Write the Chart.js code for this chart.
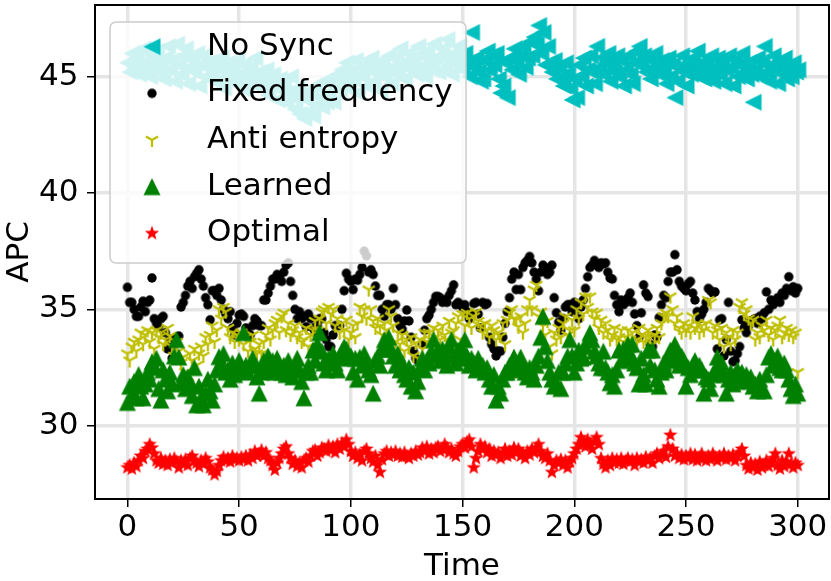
<!DOCTYPE html>
<html>
<head>
<meta charset="utf-8">
<script src="https://cdn.jsdelivr.net/npm/chart.js@4.4.1/dist/chart.umd.min.js"></script>
<style>
  html, body { margin: 0; padding: 0; background: #ffffff; }
  #wrap { width: 831px; height: 581px; }
</style>
</head>
<body>
<div id="wrap"><canvas id="c" width="831" height="581"></canvas></div>
<script>
// ---------- data ----------
const seriesLabels = ['No Sync', 'Fixed frequency', 'Anti entropy', 'Learned', 'Optimal'];
const xTicks = [0, 50, 100, 150, 200, 250, 300];
const yTicks = [30, 35, 40, 45];
const times = Array.from({length: 301}, (_, i) => i);

const noSync = [
  45.6, 45.2, 46.0, 45.4, 45.8, 45.1, 45.5, 46.2, 45.3, 45.7,
  45.0, 45.9, 45.4, 46.1, 45.2, 45.6, 44.9, 45.8, 46.3, 45.3,
  45.7, 44.8, 46.4, 45.5, 45.1, 45.9, 46.2, 44.7, 45.4, 45.8,
  45.2, 46.0, 44.6, 45.5, 45.9, 45.0, 45.6, 44.9, 45.3, 45.7,
  44.8, 45.4, 45.8, 44.5, 45.2, 45.6, 44.9, 45.3, 45.0, 45.7,
  44.6, 45.1, 45.5, 44.4, 45.0, 45.4, 44.7, 45.8, 44.9, 45.2,
  44.5, 45.0, 45.3, 44.2, 44.8, 45.1, 44.6, 44.0, 44.9, 44.4,
  44.7, 43.9, 44.3, 45.0, 44.1, 43.6, 44.5, 43.4, 44.2, 43.2,
  44.0, 43.5, 44.4, 43.3, 44.6, 43.8, 44.1, 43.7, 44.8, 43.9,
  44.3, 44.9, 43.9, 44.6, 45.1, 44.4, 45.3, 44.8, 45.6, 44.5,
  45.2, 44.9, 45.7, 44.3, 45.4, 45.0, 45.6, 44.6, 45.3, 45.8,
  44.8, 45.2, 45.6, 44.4, 45.5, 45.0, 45.3, 45.9, 44.7, 45.4,
  45.8, 45.1, 46.2, 45.5, 44.9, 45.7, 46.0, 45.3, 45.8, 45.1,
  46.3, 45.4, 45.9, 45.0, 46.1, 45.6, 45.3, 46.4, 45.8, 45.2,
  45.9, 46.2, 45.4, 46.6, 45.7, 45.1, 46.0, 45.5, 46.3, 45.8,
  45.3, 46.0, 45.6, 45.0, 46.9, 45.4, 45.8, 45.2, 44.8, 44.9,
  45.7, 46.1, 45.3, 45.9, 45.5, 46.0, 44.9, 44.3, 44.6, 45.6,
  44.1, 45.8, 45.3, 46.2, 45.7, 45.1, 45.9, 46.3, 45.4, 45.8,
  46.5, 45.9, 46.7, 46.4, 47.2, 46.0, 46.9, 45.5, 46.3, 45.6,
  45.2, 45.7, 44.9, 45.4, 45.0, 44.6, 45.6, 45.1, 44.5, 44.0,
  44.9, 44.1, 45.5, 45.0, 45.8, 44.6, 45.3, 45.9, 45.2, 44.7,
  46.3, 45.4, 45.8, 45.1, 45.6, 46.0, 44.8, 45.5, 45.2, 45.9,
  45.0, 45.7, 44.6, 45.3, 45.9, 45.1, 44.7, 45.6, 46.1, 46.3,
  45.5, 45.9, 45.2, 45.8, 44.9, 45.4, 46.0, 45.6, 45.1, 45.7,
  45.3, 44.7, 45.8, 45.0, 45.5, 44.1, 44.8, 45.4, 45.9, 45.2,
  44.6, 45.6, 45.1, 45.8, 45.3, 46.1, 45.0, 45.5, 44.9, 45.7,
  45.2, 45.9, 44.8, 45.4, 45.8, 45.1, 45.6, 44.7, 45.3, 45.9,
  45.4, 44.6, 45.7, 45.0, 45.5, 46.0, 45.2, 44.9, 45.6, 45.1,
  43.9, 45.3, 45.8, 45.0, 45.6, 46.3, 45.2, 44.8, 45.5, 45.9,
  45.3, 44.7, 45.6, 45.1, 45.8, 44.9, 45.4, 45.0, 45.6, 45.2,
  45.3
];

const fixedFrequency = [
  35.95, 35.3, 35.3, 35.0, 34.7, 34.7, 35.1, 35.35, 34.9, 35.3,
  35.4, 36.35, 34.6, 34.4, 34.25, 34.6, 34.7, 34.0, 33.3, 33.7,
  32.9, 33.5, 33.8, 33.85, 35.1, 35.3, 35.6, 36.0, 36.2, 35.9,
  36.4, 36.55, 36.7, 36.3, 36.0, 35.5, 35.2, 34.55, 35.8, 35.8,
  35.6, 35.9, 35.4, 35.0, 34.8, 34.6, 34.9, 34.2, 33.9, 34.4,
  34.75, 34.8, 34.7, 34.2, 34.0, 33.9, 34.3, 34.6, 34.5, 34.3,
  34.3, 35.4, 35.4, 35.7, 36.0, 36.3, 36.3, 36.5, 36.4, 36.2,
  36.6, 36.9, 37.0, 36.2, 35.6, 35.0, 34.6, 34.9, 34.6, 34.7,
  34.25, 34.8, 34.6, 34.2, 34.0, 34.3, 34.6, 34.6, 34.0, 33.7,
  33.4, 33.4, 33.9, 34.3, 34.3, 34.3, 35.0, 35.8, 36.55, 36.3,
  36.2, 35.85, 36.3, 36.25, 36.5, 36.8, 37.5, 37.3, 36.6, 36.7,
  36.5, 36.0, 35.6, 35.6, 35.0, 34.7, 35.2, 35.2, 35.0, 35.9,
  35.2, 34.6, 34.3, 34.15, 34.5, 34.97, 34.5, 33.8, 33.2, 32.9,
  32.8, 32.7, 33.5, 34.1, 34.6, 34.75, 35.0, 35.3, 35.55, 35.55,
  35.5, 35.3, 35.4, 35.3, 35.6, 35.8, 36.05, 35.2, 35.3, 35.2,
  35.1, 35.2, 34.9, 34.6, 34.75, 35.25, 35.3, 34.8, 34.2, 35.3,
  35.2, 35.25, 33.8, 33.5, 33.3, 33.0, 33.2, 33.2, 33.8, 34.4,
  34.9, 35.5, 36.3, 36.6, 35.85, 36.5, 35.85, 36.8, 37.0, 37.1,
  37.27, 37.0, 36.6, 36.3, 35.8, 36.6, 36.9, 36.8, 36.5, 36.6,
  36.9, 35.5, 34.85, 34.45, 34.1, 34.6, 35.1, 35.2, 35.2, 34.9,
  35.3, 35.0, 34.6, 35.1, 35.4, 35.9, 36.4, 36.8, 36.9, 37.1,
  36.9, 36.8, 37.0, 36.95, 37.0, 36.6, 36.35, 36.3, 35.6, 35.2,
  34.9, 35.4, 35.2, 35.3, 35.5, 35.7, 35.3, 34.8, 34.3, 33.8,
  34.85, 36.05, 35.7, 35.55, 33.5, 33.4, 33.9, 33.8, 34.65, 35.2,
  35.6, 35.5, 36.2, 36.6, 36.6, 37.35, 36.7, 36.2, 36.0, 35.9,
  35.8, 36.1, 36.2, 35.7, 35.4, 34.9, 34.6, 34.8, 35.0, 35.3,
  35.9, 35.8, 35.7, 35.75, 33.3, 34.55, 34.6, 33.0, 33.7, 35.3,
  33.2, 32.75, 32.8, 33.1, 33.4, 34.55, 34.2, 34.0, 34.3, 34.5,
  34.55, 34.6, 34.4, 34.7, 34.6, 34.85, 35.75, 35.0, 35.4, 35.2,
  35.35, 35.5, 35.3, 35.7, 35.6, 35.9, 36.4, 35.8, 35.97, 35.7,
  35.9
];

const antiEntropy = [
  33.1, 32.8, 33.4, 33.6, 33.2, 33.7, 34.0, 33.5, 33.9, 34.1,
  33.6, 34.0, 33.3, 34.1, 33.8, 34.0, 33.5, 33.7, 34.2, 33.85,
  33.4, 33.0, 33.6, 33.2, 32.7, 32.95, 32.3, 31.85, 33.1, 32.8,
  33.3, 32.6, 33.1, 33.4, 33.0, 33.8, 33.5, 33.9, 34.3, 33.6,
  34.1, 35.0, 34.6, 35.1, 34.9, 34.2, 33.8, 34.0, 33.6, 33.9,
  33.7, 34.0, 33.5, 33.8, 33.2, 33.6, 33.9, 33.3, 33.1, 33.5,
  33.1, 33.6, 33.9, 34.2, 33.7, 34.1, 34.4, 34.55, 34.0, 34.7,
  34.85, 34.1, 34.4, 33.9, 34.1, 34.3, 33.8, 34.0, 33.6, 33.7,
  34.2, 33.4, 33.9, 34.1, 34.5, 34.1, 34.6, 34.9, 35.0, 34.4,
  35.1, 34.8, 35.0, 34.3, 34.6, 34.0, 34.4, 34.1, 34.55, 33.7,
  34.0, 34.3, 33.8, 34.4, 35.1, 34.7, 35.0, 34.6, 35.85, 35.0,
  34.5, 34.2, 34.6, 34.25, 33.9, 34.4, 34.1, 35.0, 34.7, 34.3,
  33.6, 34.0, 33.5, 33.9, 33.2, 33.7, 33.4, 33.8, 33.0, 33.55,
  32.9, 33.7, 33.3, 34.0, 33.6, 34.0, 33.7, 34.2, 33.8, 34.1,
  33.7, 34.3, 33.9, 33.7, 34.5, 34.0, 34.1, 34.4, 34.7, 33.7,
  34.8, 34.3, 34.85, 34.6, 34.2, 34.7, 34.9, 34.5, 34.3, 34.0,
  34.4, 34.1, 33.8, 34.3, 34.1, 33.7, 34.0, 33.85, 34.4, 33.5,
  34.55, 34.85, 35.0, 34.6, 34.55, 34.25, 34.7, 34.0, 34.4, 35.0,
  35.4, 35.0, 35.85, 36.05, 34.7, 34.9, 34.3, 33.9, 34.5, 33.4,
  33.1, 34.0, 33.7, 34.2, 33.8, 34.4, 34.7, 33.9, 34.1, 34.55,
  34.1, 35.0, 34.6, 35.3, 34.8, 35.55, 35.1, 35.55, 34.9, 34.6,
  34.85, 34.2, 34.55, 34.0, 34.4, 34.1, 33.7, 33.9, 34.2, 33.7,
  33.8, 34.1, 33.6, 33.8, 34.1, 33.7, 34.0, 33.5, 33.7, 34.2,
  33.9, 33.6, 33.8, 34.1, 33.8, 33.5, 33.9, 34.2, 33.8, 34.4,
  34.7, 34.85, 34.7, 35.55, 35.0, 34.4, 34.7, 34.2, 34.0, 34.4,
  34.1, 34.3, 34.0, 34.7, 34.2, 34.4, 34.0, 34.3, 34.1, 34.4,
  35.4, 35.3, 34.0, 34.3, 34.1, 33.7, 34.2, 33.4, 34.0, 33.8,
  33.5, 34.1, 33.7, 34.0, 35.1, 35.3, 34.8, 35.0, 34.6, 34.4,
  34.55, 33.7, 34.0, 33.8, 34.3, 34.1, 34.55, 33.9, 34.2, 33.7,
  34.1, 34.3, 34.55, 33.8, 34.0, 34.2, 33.9, 34.1, 33.8, 34.0,
  32.3
];

const learned = [
  31.0, 31.7, 31.3, 31.9, 31.2, 32.2, 31.7, 31.2, 31.8, 32.3,
  32.0, 32.75, 32.5, 32.9, 31.6, 31.1, 32.4, 32.0, 31.5, 32.3,
  31.8, 33.0, 33.7, 32.95, 31.85, 32.2, 31.6, 32.1, 31.85, 31.3,
  32.5, 30.9, 31.7, 31.2, 30.9, 31.4, 32.0, 31.5, 31.1, 31.8,
  32.4, 32.97, 32.6, 33.1, 32.3, 32.4, 32.0, 32.7, 32.2, 32.5,
  32.8, 32.4, 34.0, 32.6, 32.3, 32.6, 32.9, 32.6, 32.1, 31.4,
  32.3, 32.8, 32.5, 33.0, 32.4, 32.8, 32.3, 32.9, 32.5, 32.3,
  32.6, 32.2, 32.8, 32.4, 32.1, 32.6, 32.9, 32.4, 31.9, 31.2,
  32.3, 32.6, 32.3, 33.25, 32.8, 33.5, 34.0, 33.2, 32.7, 32.4,
  32.9, 32.7, 33.1, 32.7, 32.4, 32.95, 33.2, 33.4, 33.3, 32.9,
  33.0, 32.3, 32.9, 32.0, 32.95, 32.6, 33.1, 32.7, 32.4, 32.2,
  31.4, 32.8, 33.0, 32.6, 33.3, 33.7, 33.3, 33.8, 33.3, 33.0,
  32.6, 33.1, 32.4, 32.7, 32.2, 32.0, 32.5, 31.7, 32.3, 31.5,
  31.9, 32.5, 32.9, 32.4, 32.8, 32.7, 33.2, 33.7, 33.0, 33.25,
  32.8, 33.3, 33.1, 32.6, 33.4, 33.7, 33.0, 32.7, 33.25, 32.9,
  33.3, 33.7, 33.0, 32.6, 32.9, 32.7, 32.4, 32.9, 32.5, 32.6,
  32.3, 32.5, 32.0, 31.7, 32.2, 31.1, 31.7, 31.4, 32.0, 32.3,
  32.3, 32.6, 32.5, 32.95, 32.4, 32.7, 32.95, 32.6, 32.3, 32.1,
  32.5, 32.3, 32.0, 32.6, 33.0, 33.8, 34.7, 33.4, 32.8, 32.3,
  32.0, 31.7, 31.85, 32.3, 31.6, 32.3, 32.7, 33.0, 33.7, 33.0,
  32.3, 32.7, 33.25, 32.9, 32.95, 33.4, 33.7, 34.0, 33.7, 33.2,
  33.0, 32.7, 32.5, 33.2, 32.5, 32.3, 31.85, 32.2, 31.7, 32.4,
  33.25, 32.8, 33.3, 32.9, 33.5, 33.1, 33.5, 32.7, 32.5, 31.8,
  32.9, 32.2, 31.8, 33.25, 32.6, 33.25, 32.4, 32.0, 31.7, 32.3,
  32.7, 32.4, 33.0, 33.25, 32.8, 33.5, 33.1, 32.6, 33.0, 32.8,
  31.7, 32.5, 32.2, 32.6, 32.8, 32.4, 32.6, 32.4, 31.4, 32.1,
  32.0, 31.6, 32.2, 32.4, 32.95, 32.5, 32.7, 32.2, 31.4, 32.0,
  32.3, 31.8, 32.2, 32.4, 32.1, 32.3, 31.9, 32.2, 32.0, 32.1,
  31.7, 31.8, 31.5, 32.0, 31.6, 31.5, 32.2, 32.95, 33.1, 32.6,
  32.8, 33.0, 32.5, 32.4, 32.7, 32.4, 32.0, 31.6, 31.3, 31.8,
  31.4
];

const optimal = [
  28.2, 28.3, 28.15, 28.4, 28.25, 28.5, 28.7, 28.6, 28.9, 29.0,
  29.2, 29.05, 28.8, 28.5, 28.4, 28.6, 28.35, 28.5, 28.3, 28.55,
  28.4, 28.6, 28.45, 28.2, 28.5, 28.35, 28.55, 28.3, 28.6, 28.7,
  28.5, 28.4, 28.25, 28.5, 28.35, 28.6, 28.45, 28.2, 28.1, 27.9,
  28.05, 28.3, 28.5, 28.65, 28.5, 28.6, 28.45, 28.7, 28.55, 28.6,
  28.5, 28.65, 28.55, 28.7, 28.5, 28.75, 28.6, 28.9, 28.7, 28.8,
  28.95, 28.7, 28.85, 28.6, 28.5, 28.3, 28.1, 28.4, 28.6, 28.8,
  29.0, 29.1, 28.8, 28.6, 28.35, 28.5, 28.25, 28.4, 28.2, 28.5,
  28.6, 28.45, 28.7, 28.9, 28.95, 28.7, 28.85, 29.05, 29.0, 28.9,
  29.15, 28.95, 29.1, 28.85, 29.2, 29.0, 29.25, 29.1, 29.4, 29.2,
  28.9, 28.7, 28.85, 28.6, 28.75, 28.5, 28.9, 29.0, 28.8, 28.6,
  28.45, 28.7, 28.3, 28.0, 28.55, 28.8, 28.9, 28.7, 28.85, 28.75,
  28.9, 28.7, 28.8, 28.65, 28.85, 28.7, 28.6, 28.8, 28.7, 28.9,
  28.75, 28.85, 29.05, 28.9, 29.1, 28.8, 29.0, 28.85, 29.05, 29.1,
  28.9, 29.0, 29.2, 29.05, 28.85, 29.0, 28.8, 28.7, 28.9, 29.1,
  29.2, 29.05, 29.3, 29.4, 29.1, 28.2, 28.6, 28.9, 29.2, 29.0,
  29.1, 28.85, 29.0, 28.7, 28.9, 28.75, 28.85, 28.6, 28.8, 29.0,
  28.7, 28.9, 28.75, 29.05, 28.85, 29.0, 28.7, 28.8, 28.6, 28.9,
  28.75, 29.0, 28.85, 29.05, 29.2, 28.9, 28.7, 28.6, 28.8, 28.5,
  28.0, 28.3, 28.5, 28.4, 28.55, 28.3, 28.5, 28.2, 28.45, 28.6,
  28.8, 29.0, 29.2, 29.5, 29.3, 29.1, 29.4, 29.2, 29.0, 29.3,
  29.5, 29.2, 28.6, 28.35, 28.2, 28.5, 28.3, 28.6, 28.4, 28.55,
  28.4, 28.6, 28.35, 28.5, 28.6, 28.45, 28.55, 28.3, 28.6, 28.45,
  28.55, 28.4, 28.65, 28.5, 28.6, 28.4, 28.7, 28.8, 28.6, 28.75,
  28.9, 28.65, 29.1, 29.6, 29.0, 28.7, 28.8, 28.6, 28.75, 28.55,
  28.7, 28.6, 28.8, 28.55, 28.75, 28.5, 28.65, 28.8, 28.6, 28.5,
  28.7, 28.55, 28.8, 28.65, 28.5, 28.7, 28.6, 28.8, 28.55, 28.7,
  28.6, 28.75, 28.5, 28.7, 28.85, 29.0, 28.7, 28.3, 28.15, 28.4,
  28.2, 28.35, 28.1, 28.45, 28.2, 28.3, 28.5, 28.25, 28.4, 28.6,
  28.8, 28.3, 28.15, 28.5, 28.25, 28.45, 28.8, 28.35, 28.2, 28.4,
  28.3
];

// ---------- marker glyphs (matplotlib-like) ----------
function makeMarker(size, draw) {
  const c = document.createElement('canvas');
  c.width = size; c.height = size;
  const g = c.getContext('2d');
  g.translate(size / 2, size / 2);
  draw(g);
  return c;
}
const COL = { cyan: '#00bfbf', black: '#000000', yellow: '#bfbf00', green: '#008000', red: '#ff0000' };

const mkTriLeft = makeMarker(22, g => {
  const h = 8.5;
  g.beginPath(); g.moveTo(-h, 0); g.lineTo(h, -h); g.lineTo(h, h); g.closePath();
  g.fillStyle = COL.cyan; g.fill();
});
const mkDot = makeMarker(12, g => {
  g.beginPath(); g.arc(0, 0, 4.7, 0, Math.PI * 2);
  g.fillStyle = COL.black; g.fill();
});
const mkTriDown = makeMarker(18, g => {
  const r = 7;
  g.strokeStyle = COL.yellow; g.lineWidth = 2.3; g.lineCap = 'butt';
  g.beginPath();
  g.moveTo(0, 0); g.lineTo(0, r);
  g.moveTo(0, 0); g.lineTo(-0.866 * r, -0.5 * r);
  g.moveTo(0, 0); g.lineTo(0.866 * r, -0.5 * r);
  g.stroke();
});
const mkTriUp = makeMarker(22, g => {
  const h = 8.5;
  g.beginPath(); g.moveTo(0, -h); g.lineTo(-h, h); g.lineTo(h, h); g.closePath();
  g.fillStyle = COL.green; g.fill();
});
const mkStar = makeMarker(18, g => {
  const ro = 7.6, ri = ro * 0.42;
  g.beginPath();
  for (let k = 0; k < 10; k++) {
    const r = (k % 2 === 0) ? ro : ri;
    const a = -Math.PI / 2 + k * Math.PI / 5;
    const px = r * Math.cos(a), py = r * Math.sin(a);
    if (k === 0) g.moveTo(px, py); else g.lineTo(px, py);
  }
  g.closePath();
  g.fillStyle = COL.red; g.fill();
});

const toPts = arr => arr.map((v, i) => ({ x: times[i], y: v }));

// ---------- plugins ----------
const framePlugin = {
  id: 'frame',
  afterDatasetsDraw(chart) {
    const { ctx, chartArea: a } = chart;
    ctx.save();
    ctx.strokeStyle = '#000'; ctx.lineWidth = 2;
    ctx.strokeRect(a.left, a.top, a.right - a.left, a.bottom - a.top);
    ctx.restore();
  }
};

const legendPlugin = {
  id: 'mplLegend',
  afterDraw(chart) {
    const ctx = chart.ctx;
    const bx = 110, by = 22, bw = 356, bh = 241, r = 6;
    ctx.save();
    ctx.beginPath();
    ctx.moveTo(bx + r, by);
    ctx.lineTo(bx + bw - r, by); ctx.arcTo(bx + bw, by, bx + bw, by + r, r);
    ctx.lineTo(bx + bw, by + bh - r); ctx.arcTo(bx + bw, by + bh, bx + bw - r, by + bh, r);
    ctx.lineTo(bx + r, by + bh); ctx.arcTo(bx, by + bh, bx, by + bh - r, r);
    ctx.lineTo(bx, by + r); ctx.arcTo(bx, by, bx + r, by, r);
    ctx.closePath();
    ctx.fillStyle = 'rgba(255,255,255,0.8)'; ctx.fill();
    ctx.strokeStyle = '#cccccc'; ctx.lineWidth = 1.5; ctx.stroke();
    ctx.font = '31px "DejaVu Sans"';
    ctx.textAlign = 'left'; ctx.textBaseline = 'middle'; ctx.fillStyle = '#000';
    chart.data.datasets.forEach((ds, i) => {
      const y = 46.7 + i * 46.65;
      const img = ds.pointStyle;
      ctx.drawImage(img, 152 - img.width / 2, y - img.height / 2);
      ctx.fillText(ds.label, 207, y);
    });
    ctx.restore();
  }
};

// ---------- chart ----------
Chart.defaults.color = '#000';
Chart.defaults.font.family = '"DejaVu Sans"';

const tickFont = { family: '"DejaVu Sans"', size: 31, lineHeight: 1.2 };
const zeroPad = () => ({ left: 0, top: 0, right: 0, bottom: 0 });
const prepScale = s => { s._handleMargins = function () {}; s.getPadding = zeroPad; };
const noPad = s => { s.paddingLeft = 0; s.paddingRight = 0; s.paddingTop = 0; s.paddingBottom = 0; };

new Chart(document.getElementById('c'), {
  type: 'scatter',
  data: {
    datasets: [
      { label: seriesLabels[0], data: toPts(noSync), pointStyle: mkTriLeft, pointRadius: 6, order: 5 },
      { label: seriesLabels[1], data: toPts(fixedFrequency), pointStyle: mkDot, pointRadius: 4, order: 4 },
      { label: seriesLabels[2], data: toPts(antiEntropy), pointStyle: mkTriDown, pointRadius: 5, order: 3 },
      { label: seriesLabels[3], data: toPts(learned), pointStyle: mkTriUp, pointRadius: 6, order: 2 },
      { label: seriesLabels[4], data: toPts(optimal), pointStyle: mkStar, pointRadius: 5, order: 1 }
    ]
  },
  options: {
    responsive: false,
    animation: false,
    events: [],
    layout: { autoPadding: false, padding: { left: 0, right: 2, top: 5, bottom: 0 } },
    plugins: { legend: { display: false }, tooltip: { enabled: false } },
    scales: {
      x: {
        type: 'linear', min: -14.5, max: 314,
        beforeFit: prepScale,
        afterBuildTicks: s => { s.ticks = xTicks.map(v => ({ value: v })); },
        afterFit: s => { s.height = 82; noPad(s); },
        grid: { color: '#e5e5e5', lineWidth: 3.5, drawTicks: true, tickLength: 8, tickColor: '#000', tickWidth: 1.5 },
        border: { display: false },
        ticks: { font: tickFont, padding: 2.5, maxRotation: 0, autoSkip: false, color: '#000', callback: v => String(v) },
        title: { display: true, text: 'Time', color: '#000', font: { family: '"DejaVu Sans"', size: 31, lineHeight: 0.9 }, padding: { top: 0, bottom: 0 } }
      },
      y: {
        type: 'linear', min: 26.85, max: 48.08,
        beforeFit: prepScale,
        afterBuildTicks: s => { s.ticks = yTicks.map(v => ({ value: v })); },
        afterFit: s => { s.width = 95; noPad(s); },
        grid: { color: '#e5e5e5', lineWidth: 3.5, drawTicks: true, tickLength: 8, tickColor: '#000', tickWidth: 1.5 },
        border: { display: false },
        ticks: { font: tickFont, padding: 8.5, autoSkip: false, color: '#000', callback: v => String(v) },
        title: { display: true, text: 'APC', color: '#000', font: { family: '"DejaVu Sans"', size: 31, lineHeight: 1.3 }, padding: { top: 0, bottom: 0 } }
      }
    }
  },
  plugins: [framePlugin, legendPlugin]
});
</script>
</body>
</html>
